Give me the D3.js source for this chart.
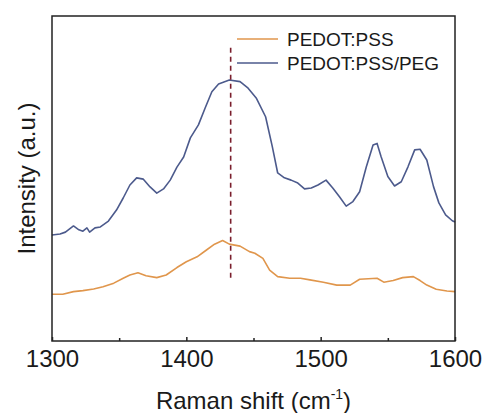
<!DOCTYPE html>
<html>
<head>
<meta charset="utf-8">
<script src="https://cdn.jsdelivr.net/npm/d3@7"></script>
<style>
  body { margin: 0; background: #fff; }
  text { font-family: "Liberation Sans", Arial, sans-serif; fill: #1a1a1a; }
</style>
</head>
<body>
<div id="chart"></div>
<script>
// PEDOT:PSS spectrum (Raman shift, arbitrary intensity)
const pssShift = [1300, 1308, 1316, 1323, 1331, 1338, 1346, 1353, 1358, 1364, 1370, 1378, 1385, 1393,
    1400, 1408, 1415, 1421, 1427, 1432, 1440, 1447, 1451, 1457, 1462, 1468, 1477, 1485, 1492, 1502,
    1512, 1522, 1529, 1542, 1547, 1554, 1561, 1569, 1574, 1579, 1586, 1594, 1600];
const pssInt = [14.4, 14.4, 15.2, 15.5, 16.0, 16.7, 17.8, 19.3, 20.3, 21.0, 20.1, 19.5, 20.3, 22.6,
    24.4, 25.9, 28.0, 29.8, 30.9, 29.8, 29.2, 27.5, 27.0, 25.4, 21.8, 19.8, 19.3, 19.3, 18.8, 18.1,
    17.2, 17.2, 19.0, 19.3, 18.1, 18.6, 19.5, 19.8, 18.6, 17.2, 15.9, 15.4, 15.2];

// PEDOT:PSS/PEG spectrum
const pegShift = [1300, 1306, 1310, 1316, 1320, 1323, 1326, 1328, 1332, 1336, 1342, 1348, 1353, 1358,
    1363, 1368, 1373, 1378, 1383, 1388, 1393, 1398, 1403, 1409, 1414, 1419, 1424, 1432, 1440, 1446,
    1452, 1459, 1464, 1468, 1473, 1478, 1483, 1488, 1493, 1498, 1504, 1509, 1514, 1519, 1524, 1529,
    1534, 1539, 1542, 1545, 1550, 1555, 1560, 1565, 1570, 1574, 1579, 1584, 1588, 1593, 1598, 1600];
const pegInt = [32.6, 32.9, 33.5, 35.4, 34.2, 33.8, 34.8, 33.5, 34.8, 35.1, 36.9, 40.3, 44.0, 48.0,
    50.2, 49.8, 47.4, 45.5, 46.8, 49.5, 53.5, 56.6, 62.5, 66.5, 71.7, 76.7, 79.1, 80.3, 79.8, 77.8,
    74.8, 69.0, 59.8, 51.7, 50.2, 49.5, 48.6, 46.8, 47.1, 48.0, 49.5, 47.1, 44.4, 41.5, 42.9, 45.9,
    53.6, 60.3, 60.8, 56.7, 50.6, 47.7, 49.0, 53.6, 58.8, 59.0, 55.7, 47.5, 42.5, 38.8, 37.0, 36.6];

const xTicks = [1300, 1400, 1500, 1600];
const xMinor = [1350, 1450, 1550];
const seriesNames = ["PEDOT:PSS", "PEDOT:PSS/PEG"];
const seriesColors = ["#e0964c", "#4c5a8c"];
const peakShift = 1433;
const peakSpan = [18.8, 90.2];

const margin = {top: 16, right: 29, bottom: 72, left: 52},
    width = 484 - margin.left - margin.right,
    height = 413 - margin.top - margin.bottom;

const svg = d3.select("#chart")
    .append("svg")
    .attr("width", width + margin.left + margin.right)
    .attr("height", height + margin.top + margin.bottom)
    .append("g")
    .attr("transform", `translate(${margin.left}, ${margin.top})`);

const x = d3.scaleLinear().domain([1300, 1600]).range([0, width]);
const y = d3.scaleLinear().domain([0, 100]).range([height, 0]);

// spectra
const series = [
    pssShift.map((s, i) => ({s: s, v: pssInt[i]})),
    pegShift.map((s, i) => ({s: s, v: pegInt[i]}))
];
const line = d3.line()
    .x(function (d) { return x(d.s); })
    .y(function (d) { return y(d.v); });

svg.selectAll(".spec")
    .data(series)
    .enter()
    .append("path")
    .attr("class", "spec")
    .attr("d", line)
    .attr("fill", "none")
    .attr("stroke", function (d, i) { return seriesColors[i]; })
    .attr("stroke-width", 1.6)
    .attr("stroke-linejoin", "round");

// dashed marker at the main peak
svg.append("line")
    .attr("x1", x(peakShift)).attr("x2", x(peakShift))
    .attr("y1", y(peakSpan[1])).attr("y2", y(peakSpan[0]))
    .attr("stroke", "#7a1e2c")
    .attr("stroke-width", 1.6)
    .attr("stroke-dasharray", "5,4");

// frame
svg.append("rect")
    .attr("width", width)
    .attr("height", height)
    .attr("fill", "none")
    .attr("stroke", "#222")
    .attr("stroke-width", 1.5);

// x axis
const xAxis = svg.append("g")
    .attr("transform", `translate(0, ${height})`)
    .call(d3.axisBottom(x).tickValues(xTicks).tickSize(-4).tickPadding(9).tickFormat(d3.format("d")));
xAxis.select(".domain").remove();
xAxis.selectAll("line").attr("stroke", "#222").attr("stroke-width", 1.5);
xAxis.selectAll("text")
    .style("font-size", "24px")
    .style("font-family", "'Liberation Sans', Arial, sans-serif")
    .attr("fill", "#1a1a1a");

const xMinorAxis = svg.append("g")
    .attr("transform", `translate(0, ${height})`)
    .call(d3.axisBottom(x).tickValues(xMinor).tickSize(-3).tickFormat(""));
xMinorAxis.select(".domain").remove();
xMinorAxis.selectAll("line").attr("stroke", "#222").attr("stroke-width", 1.5);

// axis titles
const xTitle = svg.append("text")
    .attr("x", width / 2)
    .attr("y", height + 68)
    .attr("text-anchor", "middle")
    .style("font-size", "24px");
xTitle.append("tspan").text("Raman shift (cm");
xTitle.append("tspan").attr("dy", -10).style("font-size", "14px").text("-1");
xTitle.append("tspan").attr("dy", 10).text(")");

svg.append("text")
    .attr("transform", `translate(-17, ${height / 2}) rotate(-90)`)
    .attr("text-anchor", "middle")
    .style("font-size", "24px")
    .text("Intensity (a.u.)");

// legend
const legend = svg.selectAll(".legend")
    .data(seriesNames)
    .enter()
    .append("g")
    .attr("class", "legend")
    .attr("transform", function (d, i) { return `translate(185, ${23 + i * 24})`; });
legend.append("line")
    .attr("x1", 0).attr("x2", 41)
    .attr("stroke", function (d, i) { return seriesColors[i]; })
    .attr("stroke-width", 1.6);
legend.append("text")
    .attr("x", 50)
    .attr("dy", "0.36em")
    .style("font-size", "19px")
    .text(function (d) { return d; });
</script>
</body>
</html>
